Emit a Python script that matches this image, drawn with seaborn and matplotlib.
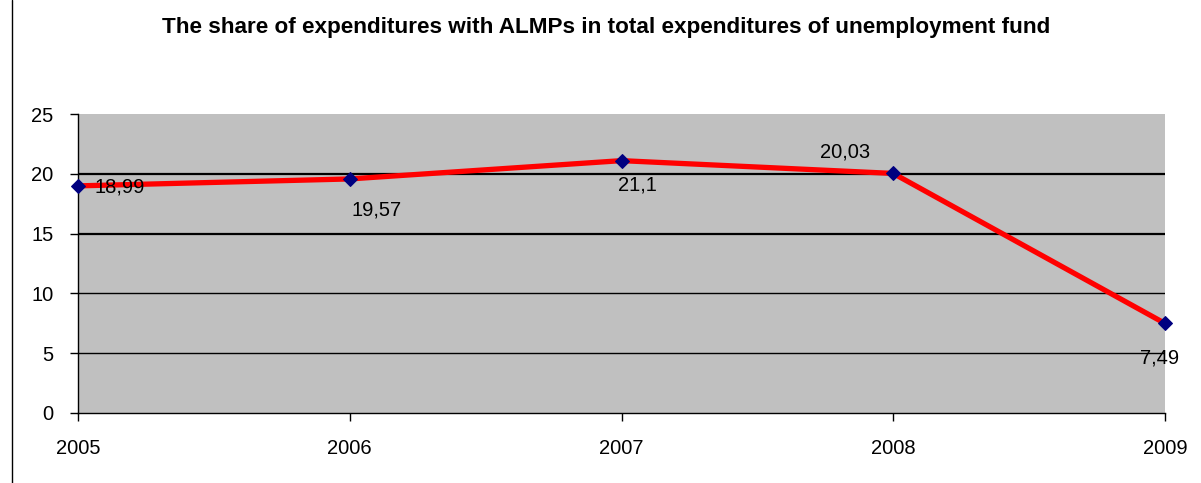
import matplotlib
matplotlib.use("Agg")
import matplotlib.pyplot as plt
import seaborn as sns
import pandas as pd
from matplotlib.lines import Line2D

years = [2005, 2006, 2007, 2008, 2009]
shares = [18.99, 19.57, 21.1, 20.03, 7.49]
labels = ["18,99", "19,57", "21,1", "20,03", "7,49"]
yticks = [0, 5, 10, 15, 20, 25]
title = "The share of expenditures with ALMPs in total expenditures of unemployment fund"

sns.set_theme(style="white")
plt.rcParams['font.family'] = ['Liberation Sans', 'DejaVu Sans']
plt.rcParams['text.color'] = 'black'

df = pd.DataFrame({"year": years, "share": shares})

fig = plt.figure(figsize=(12.01, 4.83), dpi=100)
ax = fig.add_axes([78/1201, 1 - 413/483, (1165-78)/1201, (413-114)/483])
ax.set_facecolor("#C0C0C0")

for yv, lw in [(5, 1.0), (10, 1.0), (15, 1.6), (20, 1.6)]:
    ax.axhline(yv, color="black", lw=lw, zorder=1)

sns.lineplot(data=df, x="year", y="share", ax=ax, color="#FF0000", lw=3.8,
             marker="D", markersize=7.5, markerfacecolor="#000080",
             markeredgecolor="#000080", zorder=3, clip_on=False)

offsets = [(42, -1), (27, -31), (16, -24), (-48, 21), (-5, -35)]
for x, y, lab, off in zip(years, shares, labels, offsets):
    ax.annotate(lab, (x, y), xytext=off, textcoords="offset pixels",
                ha="center", va="center", fontsize=14.5, color="black", zorder=4)

ax.set_xlim(2005, 2009)
ax.set_ylim(0, 25)
ax.set_xticks(years)
ax.set_xticklabels([str(y) for y in years])
ax.set_yticks(yticks)
ax.set_xlabel("")
ax.set_ylabel("")
ax.tick_params(axis="both", labelsize=14.5, colors="black", length=5.8, width=1,
               direction="out", left=True, bottom=True)
ax.tick_params(axis="x", pad=13)
ax.tick_params(axis="y", pad=12)
for s in ["top", "right"]:
    ax.spines[s].set_visible(False)
for s in ["left", "bottom"]:
    ax.spines[s].set_color("black")
    ax.spines[s].set_linewidth(1.0)

fig.text(0.505, 1 - 28/483, title, ha="center", va="center",
         fontsize=16.2, fontweight="bold", color="black")
fig.add_artist(Line2D([12/1201, 12/1201], [0, 1], color="black", lw=1,
                      transform=fig.transFigure))

fig.savefig("out.png", dpi=100, facecolor="white")
